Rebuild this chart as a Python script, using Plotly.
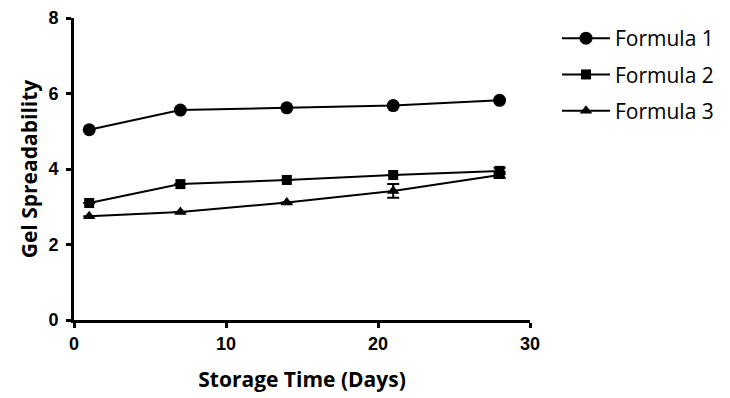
import plotly.graph_objects as go

days = [1, 7, 14, 21, 28]
formula1 = [5.04, 5.56, 5.62, 5.68, 5.82]
formula2 = [3.10, 3.60, 3.71, 3.84, 3.95]
formula3 = [2.75, 2.86, 3.11, 3.42, 3.84]
err1 = [0.0, 0.0, 0.0, 0.0, 0.0]
err2 = [0.0, 0.0, 0.0, 0.0, 0.08]
err3 = [0.0, 0.0, 0.0, 0.18, 0.08]
names = ["Formula 1", "Formula 2", "Formula 3"]
x_ticks = [0, 10, 20, 30]
y_ticks = [0, 2, 4, 6, 8]

series = [
    (formula1, err1, "circle", 13),
    (formula2, err2, "square", 10),
    (formula3, err3, "triangle-up", 11),
]

fig = go.Figure()
for i, (vals, errs, sym, sz) in enumerate(series):
    fig.add_trace(go.Scatter(
        x=days, y=vals, name=names[i], mode="lines+markers",
        legendgroup=f"g{i}",
        line=dict(color="black", width=2),
        marker=dict(symbol=sym, size=sz, color="black"),
        error_y=dict(type="data", array=errs, visible=True, color="black", thickness=2, width=6),
    ))

axis_font = dict(family="Liberation Sans", size=18, color="black", weight="bold")
title_font = dict(family="Open Sans", size=21, color="black", weight="bold")

fig.update_layout(
    width=730, height=398,
    margin=dict(l=66, r=208, t=10, b=86),
    paper_bgcolor="white", plot_bgcolor="white",
    legend=dict(x=549 / 730, xanchor="left", xref="container", y=1.0, yanchor="top",
                font=dict(family="Open Sans", size=21, color="black"),
                itemwidth=48, tracegroupgap=6, traceorder="grouped",
                bgcolor="rgba(0,0,0,0)"),
    xaxis=dict(range=[0, 30], tickvals=x_ticks, ticks="outside", ticklen=5, tickwidth=3,
               tickcolor="black", showline=True, linecolor="black", linewidth=3,
               showgrid=False, zeroline=False, tickfont=axis_font, automargin=False,
               ticklabeloverflow="allow",
               title=dict(text="Storage Time (Days)", font=title_font, standoff=20)),
    yaxis=dict(range=[0, 8], tickvals=y_ticks, ticks="outside", ticklen=5, tickwidth=3,
               tickcolor="black", showline=True, linecolor="black", linewidth=3,
               showgrid=False, zeroline=False, tickfont=axis_font, automargin=False,
               ticklabeloverflow="allow", ticklabelstandoff=4,
               title=dict(text="Gel Spreadability", font=title_font, standoff=6)),
)
fig.write_html("out.html")
